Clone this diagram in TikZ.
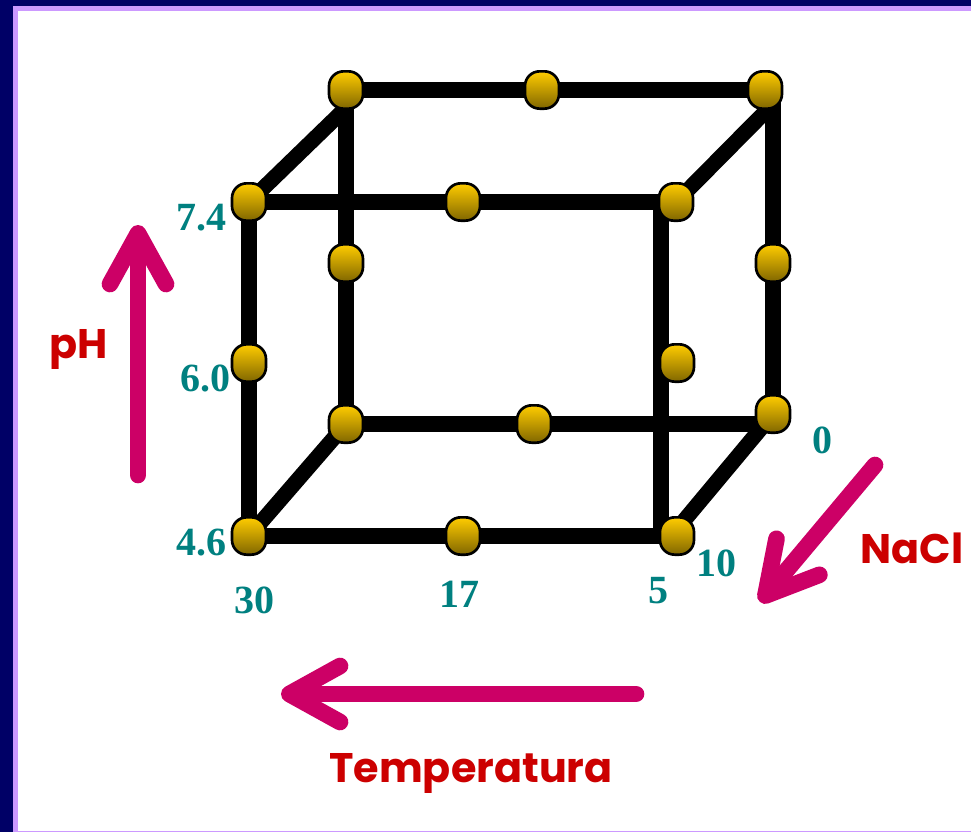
\documentclass[tikz,border=0pt]{standalone}
\usepackage{fontspec}
\setmainfont{Liberation Serif}
\newfontfamily\labelfont{Poppins}
\definecolor{frameNavy}{HTML}{000066}
\definecolor{frameLilac}{HTML}{CC99FF}
\definecolor{valTeal}{HTML}{008080}
\definecolor{axisRed}{HTML}{CC0000}
\definecolor{arrowPink}{HTML}{CC0066}
\definecolor{knotTop}{HTML}{FFCC00}
\definecolor{knotBot}{HTML}{806600}
\usetikzlibrary{arrows.meta, backgrounds}

\begin{document}
\begin{tikzpicture}[
    x=0.75pt, y=-0.75pt,
    knot/.style={rectangle, draw=black, line width=2pt, top color=knotTop, bottom color=knotBot,
                 minimum width=25.5pt, minimum height=28pt, inner sep=0pt, rounded corners=11pt},
    edge/.style={line width=11.5pt, black},
    val/.style={font=\fontsize{30}{30}\selectfont\bfseries, text=valTeal, inner sep=0pt},
    axislabel/.style={font=\labelfont\fontsize{31}{31}\selectfont\bfseries, text=axisRed, inner sep=0pt, anchor=base},
    bigarrow/.style={-{Straight Barb[round, length=38pt, width=42pt]}, line width=12.5pt, line cap=round, arrowPink}
]
    \useasboundingbox (0,0) rectangle (971,832);

    % front face
    \node[knot] (ftl) at (249,202) {};
    \node[knot] (ftm) at (463,202) {};
    \node[knot] (ftr) at (676,202) {};
    \node[knot] (fml) at (249,363) {};
    \node[knot] (fmr) at (677,363) {};
    \node[knot] (fbl) at (249,536) {};
    \node[knot] (fbm) at (463,536) {};
    \node[knot] (fbr) at (677,536) {};
    % back face
    \node[knot] (btl) at (346,90) {};
    \node[knot] (btm) at (542,90) {};
    \node[knot] (btr) at (765,90) {};
    \node[knot] (bml) at (346,263) {};
    \node[knot] (bmr) at (773,263) {};
    \node[knot] (bbl) at (346,424) {};
    \node[knot] (bbm) at (534,424) {};
    \node[knot] (bbr) at (773,414) {};

    \coordinate (ftrpost) at (661,202);
    \coordinate (fbrpost) at (661,536);
    \coordinate (btrpost) at (773,90);
    \coordinate (bbrrail) at (773,424);
    \coordinate (btldiag) at (346,108);
    \coordinate (btrdiag) at (770,107);
    \coordinate (fbrdiag) at (677,529);

    \begin{scope}[on background layer]
        % frame
        \fill[frameNavy] (0,0) rectangle (971,832);
        \fill[frameLilac] (13,6) rectangle (971,832);
        \fill[white] (18,11) rectangle (971,831);

        \draw[edge] (btl.center) -- (btr.center);
        \draw[edge] (ftl.center) -- (ftr.center);
        \draw[edge] (bbl.center) -- (bbrrail);
        \draw[edge] (fbl.center) -- (fbr.center);
        \draw[edge] (ftl.center) -- (fbl.center);
        \draw[edge] (btl.center) -- (bbl.center);
        \draw[edge] (ftrpost) -- (fbrpost);
        \draw[edge] (btrpost) -- (bbr.center);
        \draw[edge] (btldiag) -- (ftl.center);
        \draw[edge] (btrdiag) -- (ftr.center);
        \draw[edge] (bbl.center) -- (fbl.center);
        \draw[edge] (bbr.center) -- (fbrdiag);
    \end{scope}

    \node[val] (ph74) at (201,218) {7.4};
    \node[val] (ph60) at (205,378) {6.0};
    \node[val] (ph46) at (201,543) {4.6};
    \node[val] (t30)  at (254,600) {30};
    \node[val] (t17)  at (459,594) {17};
    \node[val] (t5)   at (658,591) {5};
    \node[val] (n10)  at (716,563) {10};
    \node[val] (n0)   at (822,440) {0};

    \coordinate (phfrom) at (138,475);
    \coordinate (phto) at (138,225);
    \coordinate (tfrom) at (636,694);
    \coordinate (tto) at (281,694);
    \coordinate (nfrom) at (875,465);
    \coordinate (nto) at (760,602);
    \draw[bigarrow] (phfrom) -- (phto);
    \draw[bigarrow] (tfrom) -- (tto);
    \draw[bigarrow] (nfrom) -- (nto);

    \node[axislabel] (ph)   at (79,358) {pH};
    \node[axislabel] (nacl) at (912,563) {NaCl};
    \node[axislabel] (temp) at (471,782) {Temperatura};
\end{tikzpicture}
\end{document}
